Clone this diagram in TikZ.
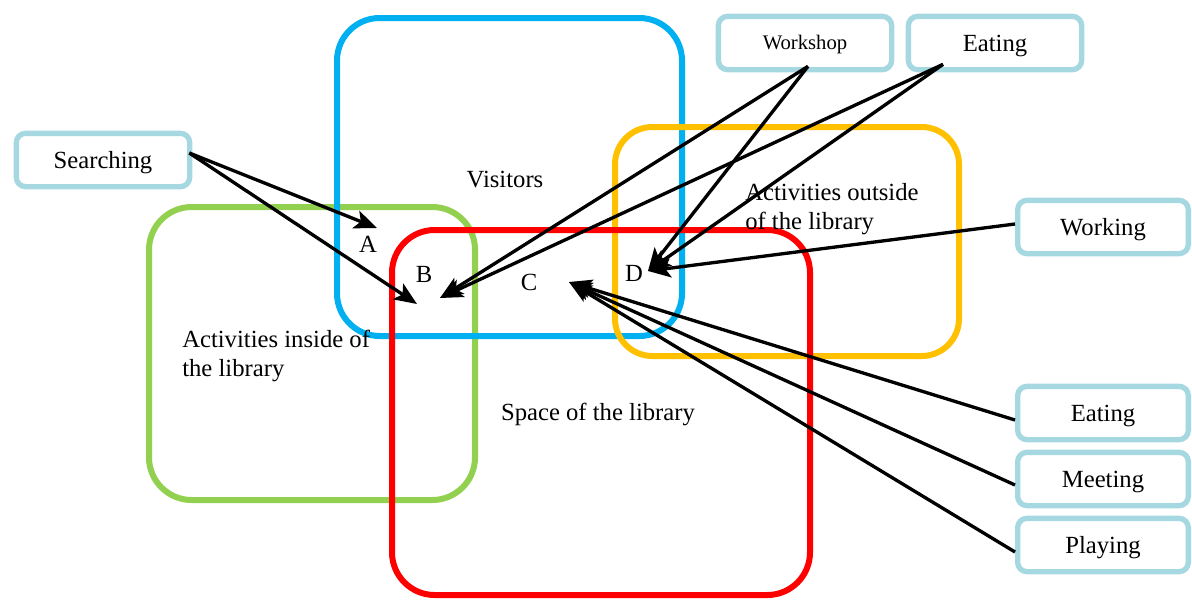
\documentclass[tikz,border=0pt]{standalone}
\usepackage{fontspec}
\setmainfont{Liberation Serif}
\usetikzlibrary{arrows.meta,calc}
\definecolor{visblue}{RGB}{0,176,240}
\definecolor{actgreen}{RGB}{146,208,80}
\definecolor{spacered}{RGB}{255,0,0}
\definecolor{outorange}{RGB}{255,192,0}
\definecolor{tagblue}{RGB}{166,216,226}
\begin{document}
\begin{tikzpicture}[x=0.75pt,y=-0.75pt,
  region/.style={line width=4.5pt,rounded corners=32pt},
  tagbox/.style={draw=tagblue,line width=4pt,rounded corners=7pt,fill=white,
    minimum width=130pt,minimum height=40pt,inner sep=0pt,
    text height=12.2pt,text depth=0pt,font=\fontsize{18.5}{20}\selectfont},
  lbl/.style={font=\fontsize{18.5}{22}\selectfont,inner sep=0pt},
  link/.style={line width=2.5pt,-{Stealth[length=17pt,width=14pt,inset=4pt]}}]
\useasboundingbox (0,0) rectangle (1192,600);
\fill[white] (0,0) rectangle (1192,600);

% overlapping regions
\draw[region,draw=actgreen] (149,207) rectangle (475,500);
\draw[region,draw=visblue] (337,18) rectangle (682,336);
\draw[region,draw=outorange,rounded corners=28pt] (615,127) rectangle (959,356);
\draw[region,draw=spacered] (392,230) rectangle (810,595);

% region captions
\node[lbl] at (505,180) {Visitors};
\node[lbl,align=left,anchor=north west] at (745,183) {Activities outside\\of the library};
\node[lbl,align=left,anchor=north west] at (182,330) {Activities inside of\\the library};
\node[lbl] at (598,414) {Space of the library};
\node[lbl] (la) at (368,244) {A};
\node[lbl] (lb) at (424,274) {B};
\node[lbl] (lc) at (529,282) {C};
\node[lbl] (ld) at (634,273) {D};

% activity tags
\node[tagbox] (search) at (103,160) {Searching};
\node[tagbox,font=\fontsize{15.5}{18}\selectfont,text height=10.2pt] (workshop) at (805,43) {Workshop};
\node[tagbox] (eattop) at (995,43) {Eating};
\node[tagbox,minimum width=128pt] (working) at (1103,227) {Working};
\node[tagbox,minimum width=128pt] (eatright) at (1103,413) {Eating};
\node[tagbox,minimum width=128pt] (meeting) at (1103,479) {Meeting};
\node[tagbox,minimum width=128pt] (playing) at (1103,545) {Playing};

% arrow targets next to the letters
\coordinate (tipA) at (377,228);
\coordinate (tipB1) at (417,304);
\coordinate (tipB) at (440,298);
\coordinate (tipC) at (569,282);
\coordinate (tipD) at (648,271);

% arrow sources on the tags
\coordinate (sSearch) at ($(search.east)+(-3,-7)$);
\coordinate (sWork) at ($(workshop.south)+(3,-6)$);
\coordinate (sEat) at ($(eattop.south)+(-52,-8)$);
\coordinate (sWorking) at ($(working.west)+(0,-3)$);
\coordinate (sEatR) at ($(eatright.west)+(0,7)$);
\coordinate (sMeet) at ($(meeting.west)+(0,6)$);
\coordinate (sPlay) at ($(playing.west)+(0,7)$);

\draw[link] (sSearch) -- (tipA);
\draw[link] (sSearch) -- (tipB1);
\draw[link] (sWork) -- (tipB);
\draw[link] (sEat) -- (tipB);
\draw[link] (sWork) -- (tipD);
\draw[link] (sEat) -- (tipD);
\draw[link] (sWorking) -- (tipD);
\draw[link] (sEatR) -- (tipC);
\draw[link] (sMeet) -- (tipC);
\draw[link] (sPlay) -- (tipC);
\end{tikzpicture}
\end{document}
